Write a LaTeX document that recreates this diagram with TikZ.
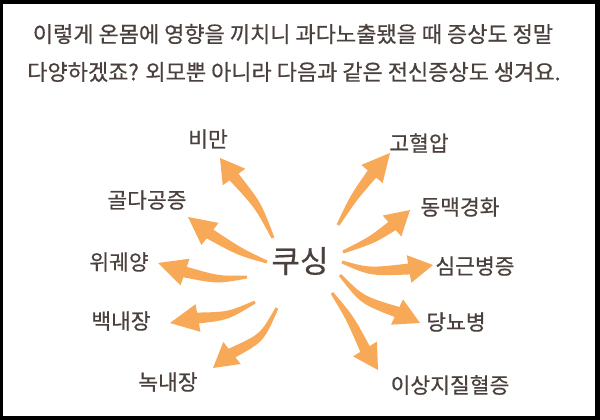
\documentclass[tikz,border=0pt]{standalone}
\usepackage{fontspec}
\setmainfont{Noto Sans CJK KR}[FakeBold=0.5]
\usetikzlibrary{calc}
\definecolor{arroworange}{HTML}{F7A958}
\definecolor{inktext}{HTML}{4A403C}
\newcommand\taperarrow[4]{%
  \fill[arrowfill] ($(#1)!1.5pt!90:(#2)$) .. controls ($(#2)!4pt!90:(#3)$) .. ($(#3)!5.5pt!90:(#4)$)
    -- ($(#3)!14pt!90:(#4)$) -- (#4) -- ($(#3)!14pt!-90:(#4)$) -- ($(#3)!5.5pt!-90:(#4)$)
    .. controls ($(#2)!4pt!-90:(#3)$) .. ($(#1)!1.5pt!-90:(#2)$) -- cycle;}
\begin{document}
\begin{tikzpicture}[x=1pt,y=-1pt,
  arrowfill/.style={fill=arroworange},
  heading/.style={text=inktext,font=\fontsize{22}{26}\selectfont,inner sep=0pt},
  label/.style={text=inktext,font=\fontsize{21.5}{25}\selectfont,inner sep=0pt},
  hub/.style={text=inktext,font=\fontsize{31}{35}\selectfont,inner sep=0pt}]
\useasboundingbox (0,0) rectangle (600,420);
\fill[black] (0,0) rectangle (600,420);
\fill[white] (3,4) rectangle (595,416);
% heading
\node[heading] (h1) at (293,34) {이렇게 온몸에 영향을 끼치니 과다노출됐을 때 증상도 정말};
\node[heading] (h2) at (294,72) {다양하겠죠? 외모뿐 아니라 다음과 같은 전신증상도 생겨요.};
% nodes
\node[hub] (cushing) at (300,261) {쿠싱};
\node[label] (obesity) at (208,139) {비만};
\node[label] (osteo) at (147,200) {골다공증};
\node[label] (ulcer) at (119,262) {위궤양};
\node[label] (cataract) at (121,321) {백내장};
\node[label] (glaucoma) at (168,382) {녹내장};
\node[label] (hyper) at (419,143) {고혈압};
\node[label] (athero) at (460,207) {동맥경화};
\node[label] (cardio) at (475,266) {심근병증};
\node[label] (diabetes) at (456,322) {당뇨병};
\node[label] (lipid) at (450,385) {이상지질혈증};
% arrow geometry
\coordinate (s1) at (273,238); \coordinate (c1) at (258,205); \coordinate (b1) at (234,177); \coordinate (t1) at (220,158);
\coordinate (s2) at (267,262); \coordinate (c2) at (240,252); \coordinate (b2) at (210,234); \coordinate (t2) at (188,217);
\coordinate (s3) at (247,277); \coordinate (c3) at (218,280); \coordinate (b3) at (185,272); \coordinate (t3) at (158,263);
\coordinate (s4) at (255,302); \coordinate (c4) at (228,316); \coordinate (b4) at (198,318); \coordinate (t4) at (170,323);
\coordinate (s5) at (277,308); \coordinate (c5) at (262,338); \coordinate (b5) at (232,353); \coordinate (t5) at (213,368);
\coordinate (s6) at (338,225); \coordinate (c6) at (354,197); \coordinate (b6) at (372,174); \coordinate (t6) at (390,153);
\coordinate (s7) at (343,252); \coordinate (c7) at (372,240); \coordinate (b7) at (392,226); \coordinate (t7) at (410,210);
\coordinate (s8) at (342,262); \coordinate (c8) at (370,272); \coordinate (b8) at (409,269); \coordinate (t8) at (433,265);
\coordinate (s9) at (340,275); \coordinate (c9) at (362,300); \coordinate (b9) at (397,312); \coordinate (t9) at (420,323);
\coordinate (s10) at (332,293); \coordinate (c10) at (350,318); \coordinate (b10) at (365,349); \coordinate (t10) at (378,370);
\taperarrow{s1}{c1}{b1}{t1}
\taperarrow{s2}{c2}{b2}{t2}
\taperarrow{s3}{c3}{b3}{t3}
\taperarrow{s4}{c4}{b4}{t4}
\taperarrow{s5}{c5}{b5}{t5}
\taperarrow{s6}{c6}{b6}{t6}
\taperarrow{s7}{c7}{b7}{t7}
\taperarrow{s8}{c8}{b8}{t8}
\taperarrow{s9}{c9}{b9}{t9}
\taperarrow{s10}{c10}{b10}{t10}
\end{tikzpicture}
\end{document}
